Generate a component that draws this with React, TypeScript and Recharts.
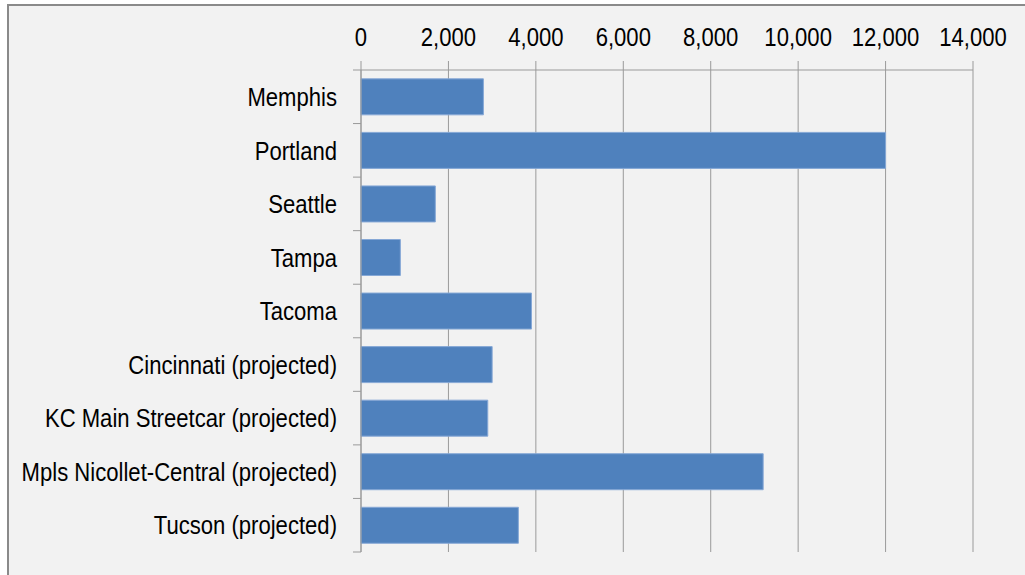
import React from "react";
import {
  BarChart,
  Bar,
  XAxis,
  YAxis,
  CartesianGrid,
} from "recharts";

const cities = [
  "Memphis",
  "Portland",
  "Seattle",
  "Tampa",
  "Tacoma",
  "Cincinnati (projected)",
  "KC Main Streetcar (projected)",
  "Mpls Nicollet-Central (projected)",
  "Tucson (projected)",
];

const riders = [2800, 12000, 1700, 900, 3900, 3000, 2900, 9200, 3600];

const xTicks = [0, 2000, 4000, 6000, 8000, 10000, 12000, 14000];

const data = cities.map((city, i) => ({ city, riders: riders[i] }));

const FONT = "'Liberation Sans', Arial, sans-serif";
const GRID = "#9a9a9a";
// the source picture has tall, narrow lettering
const SQUEEZE = 0.85;

function Label({ x, y, anchor, dy, children }: any) {
  return (
    <text
      transform={`translate(${x},${y}) scale(${SQUEEZE},1)`}
      dy={dy}
      textAnchor={anchor}
      fill="#000"
      fontSize={26}
      fontFamily={FONT}
    >
      {children}
    </text>
  );
}

function ValueTick(props: any) {
  const { x, y, payload } = props;
  return (
    <Label x={x} y={y} anchor="middle" dy={0}>
      {Number(payload.value).toLocaleString("en-US")}
    </Label>
  );
}

// category labels plus Excel-style tick marks sitting between the bars
function CityTick(props: any) {
  const { x, y, payload, index, visibleTicksCount } = props;
  const half = payload.offset ?? 26.8;
  const axisX = x + 24;
  const isLast = index === visibleTicksCount - 1;
  return (
    <g>
      <line x1={axisX - 8} x2={axisX} y1={y - half} y2={y - half} stroke={GRID} />
      {isLast && (
        <line x1={axisX - 8} x2={axisX} y1={y + half} y2={y + half} stroke={GRID} />
      )}
      <Label x={x} y={y} anchor="end" dy="0.355em">
        {payload.value}
      </Label>
    </g>
  );
}

export default function App() {
  return (
    <div
      style={{
        position: "absolute",
        left: 0,
        top: 0,
        width: 1025,
        height: 575,
        overflow: "hidden",
        background: "#fff",
      }}
    >
      <div
        style={{
          position: "absolute",
          left: 7,
          top: 4,
          width: 1040,
          height: 600,
          border: "2px solid #8a8a8a",
          background: "#f2f2f2",
        }}
      >
        <BarChart
          width={1016}
          height={569}
          data={data}
          layout="vertical"
          margin={{ top: 0, right: 52, bottom: 23, left: 0 }}
          barCategoryGap="16.5%"
        >
          <CartesianGrid horizontal={false} stroke={GRID} />
          <XAxis
            type="number"
            orientation="top"
            domain={[0, 14000]}
            ticks={xTicks}
            height={64}
            tickSize={9}
            tickMargin={15}
            interval={0}
            axisLine={{ stroke: GRID }}
            tickLine={{ stroke: GRID }}
            tick={<ValueTick />}
          />
          <YAxis
            type="category"
            dataKey="city"
            width={352}
            tickSize={8}
            tickMargin={16}
            interval={0}
            tickLine={false}
            axisLine={{ stroke: GRID }}
            tick={<CityTick />}
          />
          <Bar
            dataKey="riders"
            fill="#4f81bd"
            stroke="#86a8d6"
            strokeWidth={1}
            isAnimationActive={false}
          />
        </BarChart>
      </div>
    </div>
  );
}
